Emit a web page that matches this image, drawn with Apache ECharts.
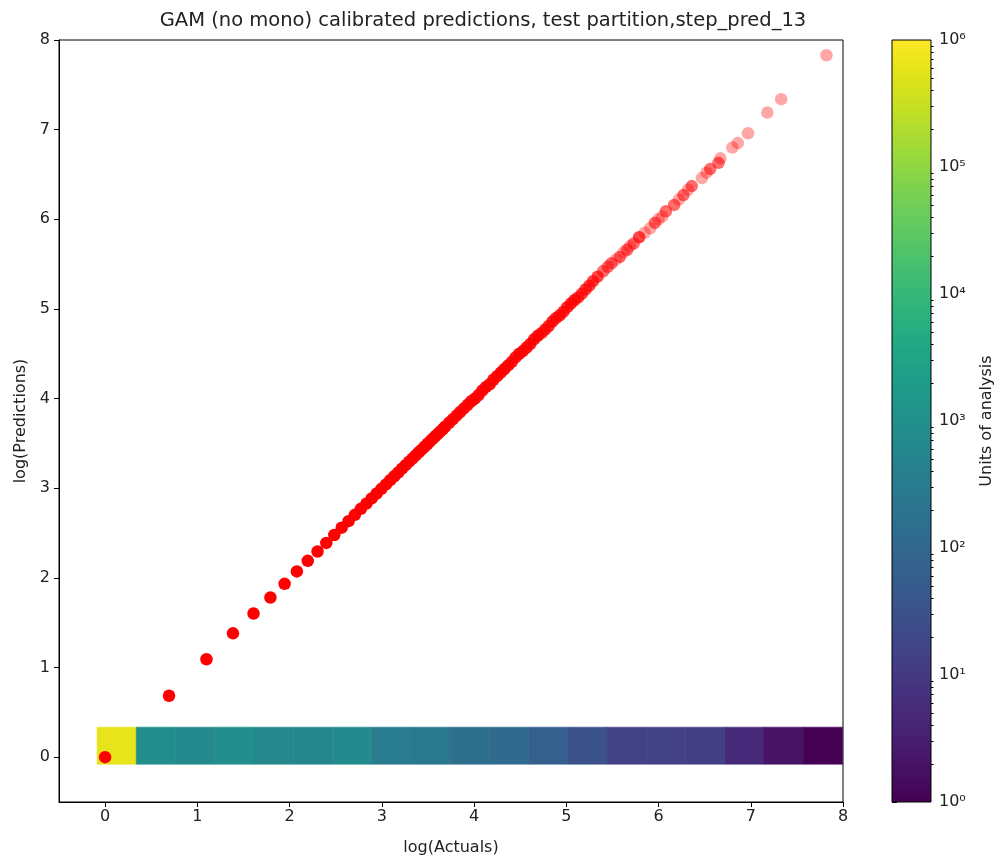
<!DOCTYPE html>
<html><head><meta charset="utf-8">
<script src="https://cdn.jsdelivr.net/npm/echarts@6/dist/echarts.min.js"></script>
<style>html,body{margin:0;padding:0;background:#fff}#c{width:1002px;height:861px}</style>
</head><body><div id="c"></div>
<script>
const TITLE = 'GAM (no mono) calibrated predictions, test partition,step_pred_13';
const X_NAME = 'log(Actuals)';
const Y_NAME = 'log(Predictions)';
const CB_NAME = 'Units of analysis';
const xTicks = [0, 1, 2, 3, 4, 5, 6, 7, 8];
const yTicks = [0, 1, 2, 3, 4, 5, 6, 7, 8];
const cbTickExps = [0, 1, 2, 3, 4, 5, 6];
const cbTickLabels = ['10⁰', '10¹', '10²', '10³', '10⁴', '10⁵', '10⁶'];

// scatter: log(actual), log(prediction), number of overlapping units
const logActuals = [0.000,0.693,1.099,1.386,1.609,1.792,1.946,2.079,2.197,2.303,2.398,2.485,2.565,2.639,2.708,2.773,2.833,2.890,2.944,2.996,3.045,3.091,3.135,3.178,3.219,3.258,3.296,3.332,3.367,3.401,3.434,3.466,3.497,3.526,3.555,3.584,3.611,3.638,3.664,3.689,3.73,3.77,3.81,3.85,3.89,3.93,3.97,4.01,4.05,4.09,4.13,4.17,4.21,4.25,4.29,4.33,4.37,4.41,4.45,4.49,4.53,4.57,4.61,4.65,4.69,4.73,4.77,4.81,4.85,4.89,4.93,4.97,5.01,5.05,5.09,5.13,5.17,5.21,5.25,5.29,5.34,5.40,5.45,5.49,5.54,5.58,5.62,5.66,5.69,5.73,5.79,5.85,5.91,5.96,6.00,6.04,6.08,6.17,6.22,6.27,6.32,6.36,6.47,6.52,6.56,6.65,6.67,6.80,6.86,6.97,7.18,7.33,7.82];
const logPredictions = [0.000,0.685,1.092,1.381,1.603,1.781,1.934,2.072,2.190,2.294,2.390,2.478,2.560,2.633,2.703,2.770,2.829,2.886,2.941,2.993,3.043,3.090,3.134,3.176,3.218,3.257,3.296,3.331,3.366,3.401,3.433,3.466,3.496,3.526,3.555,3.584,3.611,3.637,3.663,3.689,3.73,3.77,3.81,3.85,3.89,3.93,3.97,4.00,4.04,4.09,4.13,4.16,4.21,4.25,4.29,4.33,4.37,4.41,4.46,4.50,4.53,4.57,4.61,4.66,4.70,4.73,4.77,4.81,4.86,4.90,4.93,4.97,5.02,5.06,5.10,5.13,5.17,5.22,5.26,5.31,5.36,5.42,5.47,5.51,5.55,5.58,5.63,5.66,5.70,5.73,5.80,5.85,5.90,5.96,6.00,6.03,6.09,6.16,6.22,6.27,6.33,6.37,6.46,6.52,6.56,6.63,6.68,6.80,6.85,6.96,7.19,7.34,7.83];
const overlapCounts = [20,20,20,20,20,20,20,20,20,20,12,12,12,12,12,12,10,10,10,10,10,10,10,10,10,8,8,8,8,8,8,8,8,8,8,8,8,8,8,8,6,6,6,6,6,6,6,6,6,6,6,6,6,6,6,6,6,5,5,5,5,5,5,5,5,4,4,4,4,4,4,4,4,4,4,3,3,3,3,3,3,2,2,2,1,2,1,2,1,2,3,1,1,2,1,1,2,2,1,2,1,2,1,1,2,2,1,1,1,1,1,1,1];

// count row at y ~ 0 (bins along log(Actuals))
const binEdges = [-0.087,0.338,0.764,1.189,1.614,2.040,2.465,2.890,3.315,3.741,4.166,4.591,5.017,5.442,5.867,6.293,6.718,7.143,7.569,7.994];
const binCounts = [620000,850,660,890,630,590,740,295,250,148,118,63,32,14,14,13,5,2,1];
const binRowY = [-0.078, 0.335];

const viridis = ['#440154','#471365','#482475','#463480','#414487','#3b528b','#355f8d','#2f6c8e','#2a788e','#25848e','#21918c','#1e9c89','#22a884','#2fb47c','#44bf70','#5ec962','#7ad151','#9bd93c','#bddf26','#dfe318','#fde725'];

const FONT = 'DejaVu Sans';
const TXT = '#222';
const TICK_FS = 16;

const scatterData = logActuals.map((x, i) => [x, logPredictions[i], overlapCounts[i]]);
const binData = binCounts.map((c, i) => [binEdges[i], binEdges[i + 1], binRowY[0], binRowY[1], Math.log10(c)]);
const cbMinor = [];
for (let d = 0; d < 6; d++) for (let k = 2; k <= 9; k++) cbMinor.push(d + Math.log10(k));

const chart = echarts.init(document.getElementById('c'), null, {renderer: 'canvas'});
const axisCommon = {
  axisLine: {show: true, onZero: false, lineStyle: {color: '#000', width: 1}},
  splitLine: {show: false},
  nameTextStyle: {fontFamily: FONT, fontSize: TICK_FS, color: TXT}
};
chart.setOption({
  animation: false,
  backgroundColor: '#fff',
  title: {text: TITLE, left: 478, top: 6, textAlign: 'center',
    textStyle: {fontFamily: FONT, fontSize: 19.5, fontWeight: 'normal', color: TXT}},
  grid: [
    {left: 59, top: 40, width: 784, height: 762, show: true, borderColor: '#000', borderWidth: 1, backgroundColor: 'transparent'},
    {left: 892, top: 40, width: 39, height: 762, show: false}
  ],
  xAxis: [
    Object.assign({}, axisCommon, {gridIndex: 0, type: 'value', min: -0.5, max: 8,
      name: X_NAME, nameLocation: 'middle', nameGap: 38,
      axisTick: {show: true, customValues: xTicks, length: 5, lineStyle: {color: '#000'}},
      axisLabel: {customValues: xTicks, fontFamily: FONT, fontSize: TICK_FS, color: TXT, margin: 7}}),
    {gridIndex: 1, type: 'value', min: 0, max: 1, show: false}
  ],
  yAxis: [
    Object.assign({}, axisCommon, {gridIndex: 0, type: 'value', min: -0.5, max: 8,
      name: Y_NAME, nameLocation: 'middle', nameGap: 30,
      axisTick: {show: true, customValues: yTicks, length: 5, lineStyle: {color: '#000'}},
      axisLabel: {customValues: yTicks, fontFamily: FONT, fontSize: TICK_FS, color: TXT, margin: 9}}),
    Object.assign({}, axisCommon, {gridIndex: 1, type: 'value', min: 0, max: 6, position: 'right',
      name: CB_NAME, nameLocation: 'middle', nameGap: 48, nameRotate: 90,
      axisLine: {show: false},
      axisTick: {show: true, customValues: cbTickExps, length: 5, lineStyle: {color: '#000'}},
      axisLabel: {customValues: cbTickExps, fontFamily: FONT, fontSize: TICK_FS, color: TXT, margin: 8,
        formatter: v => cbTickLabels[cbTickExps.indexOf(Math.round(v))]}}),
    {gridIndex: 1, type: 'value', min: 0, max: 6, position: 'right',
      axisLine: {show: false}, splitLine: {show: false},
      axisTick: {show: true, customValues: cbMinor, length: 2.5, lineStyle: {color: '#000'}},
      axisLabel: {show: false}}
  ],
  visualMap: [{
    show: false, type: 'continuous', min: 0, max: 6, dimension: 4, seriesIndex: 0,
    inRange: {color: viridis}
  }],
  series: [
    {
      type: 'custom', xAxisIndex: 0, yAxisIndex: 0, data: binData, z: 1, clip: true,
      encode: {x: [0, 1], y: [2, 3]},
      renderItem: (params, api) => {
        const a = api.coord([api.value(0), api.value(3)]);
        const b = api.coord([api.value(1), api.value(2)]);
        const col = api.visual('color');
        return {type: 'rect', shape: {x: a[0], y: a[1], width: b[0] - a[0], height: b[1] - a[1]},
          style: {fill: col, stroke: col, lineWidth: 0.6}};
      }
    },
    {
      type: 'scatter', xAxisIndex: 0, yAxisIndex: 0, data: scatterData, z: 3,
      symbol: 'circle', symbolSize: 12.5,
      itemStyle: {opacity: 1, color: p => 'rgba(255,0,0,' + (1 - Math.pow(0.65, p.data[2])).toFixed(3) + ')'}
    },
    {
      type: 'custom', xAxisIndex: 1, yAxisIndex: 1, data: [[0, 1, 0, 6]], z: 2,
      encode: {x: [0, 1], y: [2, 3]},
      renderItem: (params, api) => {
        const a = api.coord([api.value(0), api.value(3)]);
        const b = api.coord([api.value(1), api.value(2)]);
        const stops = viridis.map((c, i) => ({offset: i / (viridis.length - 1), color: c}));
        return {type: 'rect', shape: {x: a[0], y: a[1], width: b[0] - a[0], height: b[1] - a[1]},
          style: {fill: new echarts.graphic.LinearGradient(0, 1, 0, 0, stops), stroke: '#000', lineWidth: 1}};
      }
    }
  ]
});
</script>
</body></html>
